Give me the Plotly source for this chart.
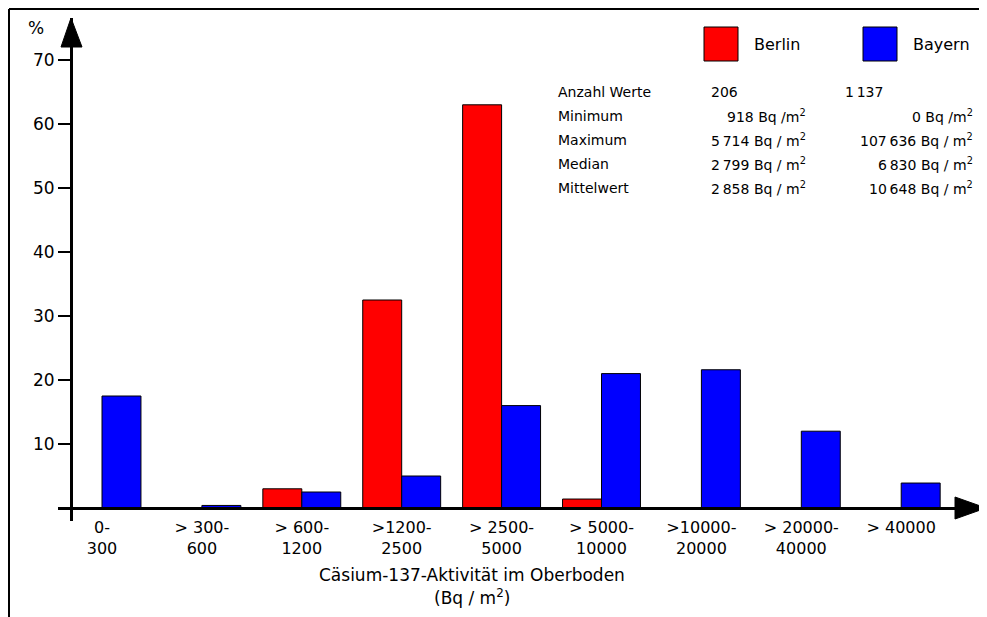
import plotly.graph_objects as go

# ---- data ----
categories = ["0-300", ">300-600", ">600-1200", ">1200-2500", ">2500-5000",
              ">5000-10000", ">10000-20000", ">20000-40000", ">40000"]
tick_labels = ["0-<br>300", "> 300-<br>600", "> 600-<br>1200", ">1200-<br>2500",
               "> 2500-<br>5000", "> 5000-<br>10000", ">10000-<br>20000",
               "> 20000-<br>40000", "> 40000"]
berlin = [0, 0, 3.0, 32.5, 63.0, 1.4, 0, 0, 0]
bayern = [17.5, 0.4, 2.5, 5.0, 16.0, 21.0, 21.6, 12.0, 3.9]
y_ticks = [10, 20, 30, 40, 50, 60, 70]

stat_labels = ["Anzahl Werte", "Minimum", "Maximum", "Median", "Mittelwert"]
stat_berlin = ["206", "918 Bq /m<sup>2</sup>", "5\u2009714 Bq / m<sup>2</sup>",
               "2\u2009799 Bq / m<sup>2</sup>", "2\u2009858 Bq / m<sup>2</sup>"]
stat_bayern = ["1\u2009137", "0 Bq /m<sup>2</sup>", "107\u2009636 Bq / m<sup>2</sup>",
               "6\u2009830 Bq / m<sup>2</sup>", "10\u2009648 Bq / m<sup>2</sup>"]

# ---- layout geometry (page pixels; the page body has an 8px margin) ----
OFF = 8
W, H = 987 - OFF, 617 - OFF
L, R, T, B = 58, 985, 18, 521   # plot area in page pixels
y0px, ppu = 508, 6.4            # page pixel of y=0, pixels per unit
gx0, gdx = 102, 99.9            # page pixel of first group centre, group spacing

def fx(px):
    return (px - L) / (R - L)

def fy(py):
    return (B - py) / (B - T)

xs = list(range(len(categories)))
FONT = "DejaVu Sans"

fig = go.Figure()
fig.add_trace(go.Bar(x=xs, y=berlin, name="Berlin", marker=dict(color="#ff0000", line=dict(color="black", width=1))))
fig.add_trace(go.Bar(x=xs, y=bayern, name="Bayern", marker=dict(color="#0000ff", line=dict(color="black", width=1))))

fig.update_layout(
    width=W, height=H, autosize=False,
    margin=dict(l=L - OFF, r=987 - R, t=T - OFF, b=617 - B, pad=0),
    paper_bgcolor="white", plot_bgcolor="white",
    barmode="group", bargap=0.22, bargroupgap=0,
    showlegend=False,
    font=dict(family=FONT, color="black", size=16),
    xaxis=dict(
        range=[(L - gx0) / gdx, (R - gx0) / gdx],
        tickmode="array", tickvals=xs, ticktext=tick_labels,
        anchor="free", position=fy(y0px),
        showline=True, linecolor="black", linewidth=3,
        showgrid=False, zeroline=False, ticks="",
        tickfont=dict(size=16), ticklabelstandoff=4,
    ),
    yaxis=dict(
        range=[-(B - y0px) / ppu, (y0px - T) / ppu],
        tickmode="array", tickvals=y_ticks,
        anchor="free", position=fx(71),
        showline=True, linecolor="black", linewidth=3,
        showgrid=False, zeroline=False,
        ticks="outside", ticklen=12, tickwidth=2, tickcolor="black",
        tickfont=dict(size=17),
    ),
)

shapes = []
# frame (top and left edges)
shapes.append(dict(type="line", xref="paper", yref="paper", x0=fx(9), x1=fx(987), y0=fy(9), y1=fy(9), line=dict(color="black", width=2)))
shapes.append(dict(type="line", xref="paper", yref="paper", x0=fx(9), x1=fx(9), y0=fy(9), y1=fy(617), line=dict(color="black", width=2)))
# arrows
shapes.append(dict(type="path", xref="paper", yref="paper",
                   path=f"M {fx(71)},{fy(18)} L {fx(61)},{fy(47)} L {fx(82)},{fy(47)} Z",
                   fillcolor="black", line=dict(color="black", width=1)))
shapes.append(dict(type="path", xref="paper", yref="paper",
                   path=f"M {fx(986)},{fy(508)} L {fx(955)},{fy(497)} L {fx(955)},{fy(519)} Z",
                   fillcolor="black", line=dict(color="black", width=1)))
# legend boxes
shapes.append(dict(type="rect", xref="paper", yref="paper", x0=fx(704), x1=fx(738), y0=fy(61), y1=fy(27),
                   fillcolor="#ff0000", line=dict(color="black", width=1)))
shapes.append(dict(type="rect", xref="paper", yref="paper", x0=fx(863), x1=fx(897), y0=fy(61), y1=fy(27),
                   fillcolor="#0000ff", line=dict(color="black", width=1)))
fig.update_layout(shapes=shapes)

ann = []
def text(px, py, s, size, anchor="left"):
    ann.append(dict(xref="paper", yref="paper", x=fx(px), y=fy(py), text=s, showarrow=False,
                    xanchor=anchor, yanchor="middle", font=dict(family=FONT, size=size, color="black")))

text(36, 28, "%", 17, "center")
text(752, 44, "Berlin", 16)
text(911, 44, "Bayern", 16)
rows_y = [92, 116, 140, 164, 188]
for i, yy in enumerate(rows_y):
    text(556, yy, stat_labels[i], 14)
    if i == 0:
        text(709, yy, stat_berlin[i], 14)
        text(843, yy, stat_bayern[i], 14)
    else:
        text(808, yy, stat_berlin[i], 14, "right")
        text(975, yy, stat_bayern[i], 14, "right")
text(472, 575, "Cäsium-137-Aktivität im Oberboden", 17, "center")
text(472, 597, "(Bq / m<sup>2</sup>)", 17, "center")
fig.update_layout(annotations=ann)

fig.write_html("out.html")
